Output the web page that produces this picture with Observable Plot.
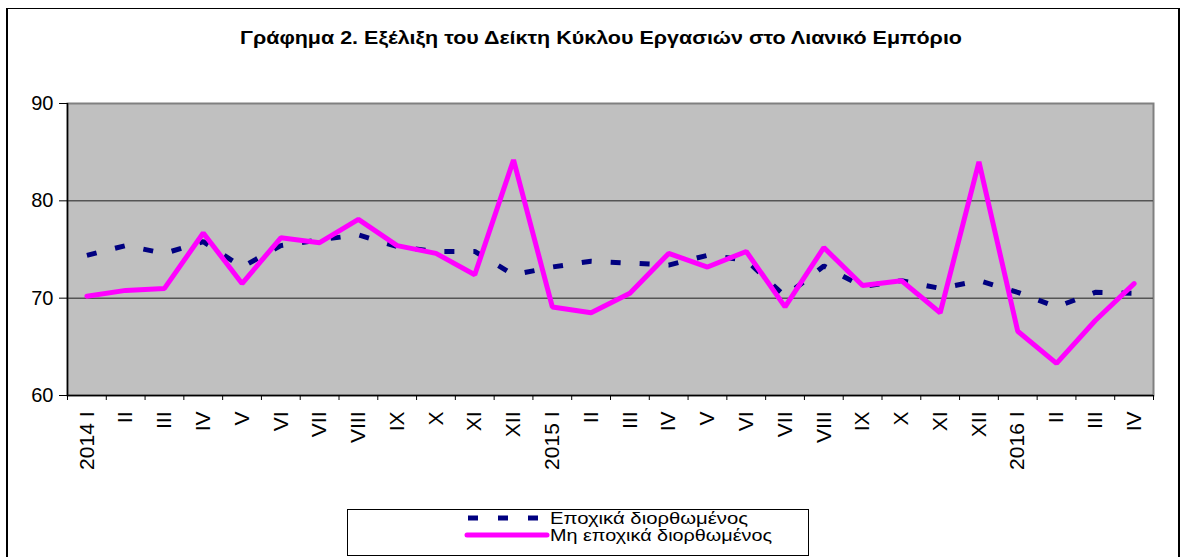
<!DOCTYPE html>
<html>
<head>
<meta charset="utf-8">
<script src="https://cdn.jsdelivr.net/npm/d3@7"></script>
<script src="https://cdn.jsdelivr.net/npm/@observablehq/plot@0.6"></script>
<style>
  html, body { margin: 0; padding: 0; background: #fff; }
  #wrap { position: relative; width: 1180px; height: 557px; overflow: hidden; font-family: Arial, "Liberation Sans", sans-serif; }
  #wrap svg { position: absolute; left: 0; top: 0; }
  #frame { position: absolute; left: 6px; top: 8px; width: 1170px; height: 600px; border-top: 1px solid #000; border-left: 2px solid #000; border-right: 2px solid #000; }
</style>
</head>
<body>
<div id="wrap"><div id="frame"></div></div>
<script>
const title = "Γράφημα 2. Εξέλιξη του Δείκτη Κύκλου Εργασιών στο Λιανικό Εμπόριο";
const months = ["2014 I","II","III","IV","V","VI","VII","VIII","IX","X","XI","XII",
                "2015 I","II","III","IV","V","VI","VII","VIII","IX","X","XI","XII",
                "2016 I","II","III","IV"];
const seasonallyAdjusted = [74.4,75.4,74.6,75.8,73.2,75.4,76.0,76.5,75.3,74.8,74.8,72.4,
                            73.2,73.8,73.6,73.4,74.4,73.9,70.2,73.3,71.2,71.8,71.0,71.8,
                            70.6,69.1,70.6,70.5];
const notAdjusted = [70.2,70.8,71.0,76.7,71.5,76.2,75.7,78.1,75.4,74.6,72.4,84.2,
                     69.1,68.5,70.5,74.6,73.2,74.8,69.1,75.2,71.3,71.8,68.5,84.0,
                     66.6,63.3,67.7,71.5];
const seriesNames = ["Εποχικά διορθωμένος", "Μη εποχικά διορθωμένος"];
const yTicks = [60, 70, 80, 90];
const gridValues = [70, 80];

const idx = d3.range(months.length);
const pos = i => i + 0.5;

const chart = Plot.plot({
  width: 1180,
  height: 557,
  marginLeft: 67,
  marginRight: 27,
  marginTop: 103,
  marginBottom: 162,
  style: { fontFamily: 'Arial, "Liberation Sans", sans-serif', background: "transparent", color: "#000" },
  x: { type: "linear", domain: [0, months.length] },
  y: { domain: [60, 90] },
  marks: [
    Plot.frame({ fill: "#C0C0C0", stroke: "#808080", strokeWidth: 2 }),
    Plot.ruleY(gridValues, { stroke: "#555", strokeWidth: 1.5 }),
    Plot.line(idx, { x: pos, y: i => seasonallyAdjusted[i], stroke: "#000080", strokeWidth: 5, strokeDasharray: "10,19", strokeLinecap: "butt", strokeLinejoin: "miter" }),
    Plot.line(idx, { x: pos, y: i => notAdjusted[i], stroke: "#FF00FF", strokeWidth: 5, strokeLinejoin: "miter" }),
    Plot.ruleX([0], { stroke: "#000", strokeWidth: 1.5 }),
    Plot.ruleY([60], { stroke: "#000", strokeWidth: 1.5 }),
    Plot.axisY({ ticks: yTicks, tickSize: 8, tickPadding: 6, fontSize: 20, stroke: "#000", tickFormat: d => String(d) }),
    Plot.axisX({ ticks: d3.range(months.length + 1), tickSize: 5, tickFormat: () => "", stroke: "#000" }),
    Plot.text(idx, { x: pos, frameAnchor: "bottom", text: i => months[i], rotate: -90, textAnchor: "end", lineAnchor: "middle", dy: 16, fontSize: 21, fill: "#000" })
  ]
});
document.getElementById("wrap").appendChild(chart);

// Title and legend overlay
const ov = d3.select("#wrap").append("svg")
  .attr("width", 1180).attr("height", 557)
  .style("font-family", 'Arial, "Liberation Sans", sans-serif');
ov.append("text").attr("x", 240).attr("y", 44)
  .attr("font-size", 18).attr("font-weight", "bold")
  .attr("textLength", 722).attr("lengthAdjust", "spacingAndGlyphs")
  .text(title);

const lg = ov.append("g");
lg.append("rect").attr("x", 347.5).attr("y", 509.5).attr("width", 461).attr("height", 46)
  .attr("fill", "#fff").attr("stroke", "#000").attr("stroke-width", 1);
lg.append("line").attr("x1", 468).attr("x2", 545).attr("y1", 518).attr("y2", 518)
  .attr("stroke", "#000080").attr("stroke-width", 5).attr("stroke-dasharray", "10,20");
lg.append("line").attr("x1", 467).attr("x2", 547).attr("y1", 535).attr("y2", 535)
  .attr("stroke", "#FF00FF").attr("stroke-width", 5).attr("stroke-linecap", "round");
lg.append("text").attr("x", 550).attr("y", 524).attr("font-size", 17)
  .attr("textLength", 198).attr("lengthAdjust", "spacingAndGlyphs").text(seriesNames[0]);
lg.append("text").attr("x", 550).attr("y", 541).attr("font-size", 17)
  .attr("textLength", 222).attr("lengthAdjust", "spacingAndGlyphs").text(seriesNames[1]);
</script>
</body>
</html>
